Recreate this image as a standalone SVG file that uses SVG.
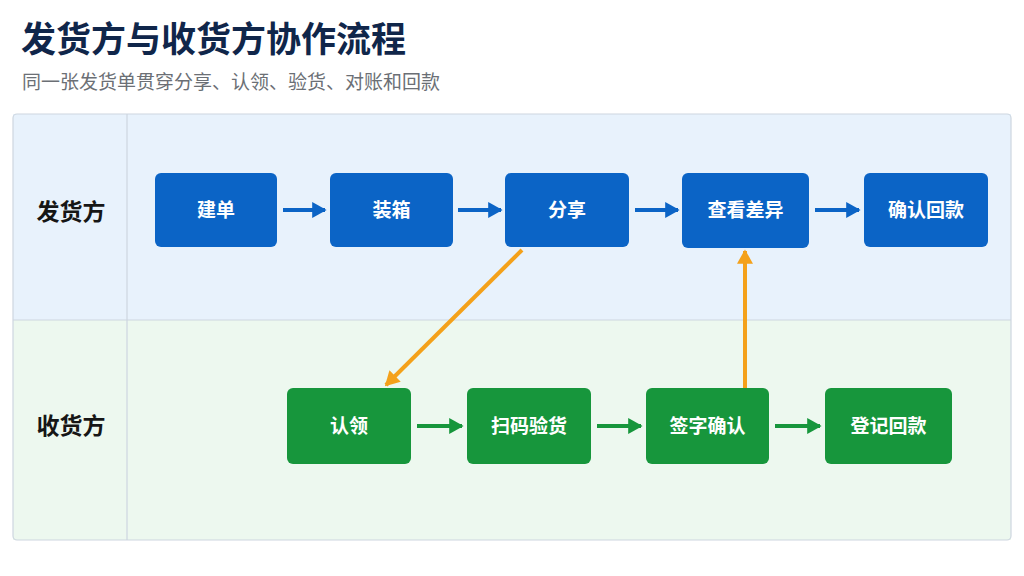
<svg xmlns="http://www.w3.org/2000/svg" width="1024" height="576" viewBox="0 0 1024 576">
<defs>
<style>
.t{font-family:"Noto Sans CJK SC","Noto Sans",sans-serif}
.title{font-size:35px;font-weight:700;fill:#10264a}
.sub{font-size:19px;fill:#6b6f75}
.lane{font-size:23px;font-weight:700;fill:#161616;text-anchor:middle}
.nl{font-size:19px;font-weight:700;fill:#ffffff;text-anchor:middle}
.b{fill:#0b64c6}
.g{fill:#17963c}
.cb{stroke:#0b64c6;stroke-width:4;fill:none}
.cg{stroke:#17963c;stroke-width:4;fill:none}
.co{stroke:#f4a11a;stroke-width:4;fill:none}
</style>
<marker id="ab" viewBox="0 0 9 10" refX="8" refY="5" markerWidth="3.6" markerHeight="4.2" markerUnits="strokeWidth" orient="auto"><path d="M0,0L9,5L0,10z" fill="#0b64c6"/></marker>
<marker id="ag" viewBox="0 0 9 10" refX="8" refY="5" markerWidth="3.6" markerHeight="4.2" markerUnits="strokeWidth" orient="auto"><path d="M0,0L9,5L0,10z" fill="#17963c"/></marker>
<marker id="ao" viewBox="0 0 9 10" refX="8" refY="5" markerWidth="3.6" markerHeight="4.2" markerUnits="strokeWidth" orient="auto"><path d="M0,0L9,5L0,10z" fill="#f4a11a"/></marker>
</defs>
<rect width="1024" height="576" fill="#ffffff"/>
<text class="t title" x="21" y="52">发货方与收货方协作流程</text>
<text class="t sub" x="22" y="89">同一张发货单贯穿分享、认领、验货、对账和回款</text>
<g id="lanes">
<rect x="13" y="114" width="998" height="206" fill="#e8f2fc"/>
<rect x="13" y="320" width="998" height="220" fill="#edf8ef"/>
<rect x="13" y="114" width="998" height="426" rx="4" fill="none" stroke="#cdd6df" stroke-width="1.2"/>
<line x1="13" y1="320" x2="1011" y2="320" stroke="#cdd6df" stroke-width="1.2"/>
<line x1="127" y1="114" x2="127" y2="540" stroke="#cdd6df" stroke-width="1.2"/>
<text class="t lane" x="71" y="220">发货方</text>
<text class="t lane" x="71" y="434">收货方</text>
</g>
<g id="connectors">
<line class="cb" x1="283" y1="210" x2="325" y2="210" marker-end="url(#ab)"/>
<line class="cb" x1="458" y1="210" x2="501" y2="210" marker-end="url(#ab)"/>
<line class="cb" x1="635" y1="210" x2="678" y2="210" marker-end="url(#ab)"/>
<line class="cb" x1="815" y1="210" x2="859" y2="210" marker-end="url(#ab)"/>
<line class="cg" x1="417" y1="426" x2="462" y2="426" marker-end="url(#ag)"/>
<line class="cg" x1="597" y1="426" x2="641" y2="426" marker-end="url(#ag)"/>
<line class="cg" x1="775" y1="426" x2="820" y2="426" marker-end="url(#ag)"/>
<line class="co" x1="522" y1="250" x2="386" y2="385" marker-end="url(#ao)"/>
<line class="co" x1="745" y1="388" x2="745" y2="251" marker-end="url(#ao)"/>
</g>
<g id="n1"><rect class="b" x="155" y="173" width="122" height="74" rx="6"/><text class="t nl" x="216" y="217">建单</text></g>
<g id="n2"><rect class="b" x="330" y="173" width="123" height="74" rx="6"/><text class="t nl" x="391.5" y="217">装箱</text></g>
<g id="n3"><rect class="b" x="505" y="173" width="124" height="74" rx="6"/><text class="t nl" x="567" y="217">分享</text></g>
<g id="n4"><rect class="b" x="682" y="173" width="127" height="75" rx="6"/><text class="t nl" x="745.5" y="217">查看差异</text></g>
<g id="n5"><rect class="b" x="864" y="173" width="124" height="74" rx="6"/><text class="t nl" x="926" y="217">确认回款</text></g>
<g id="n6"><rect class="g" x="287" y="388" width="124" height="76" rx="6"/><text class="t nl" x="349" y="433">认领</text></g>
<g id="n7"><rect class="g" x="467" y="388" width="124" height="76" rx="6"/><text class="t nl" x="529" y="433">扫码验货</text></g>
<g id="n8"><rect class="g" x="646" y="388" width="123" height="76" rx="6"/><text class="t nl" x="707.5" y="433">签字确认</text></g>
<g id="n9"><rect class="g" x="825" y="388" width="127" height="76" rx="6"/><text class="t nl" x="888.5" y="433">登记回款</text></g>
</svg>
